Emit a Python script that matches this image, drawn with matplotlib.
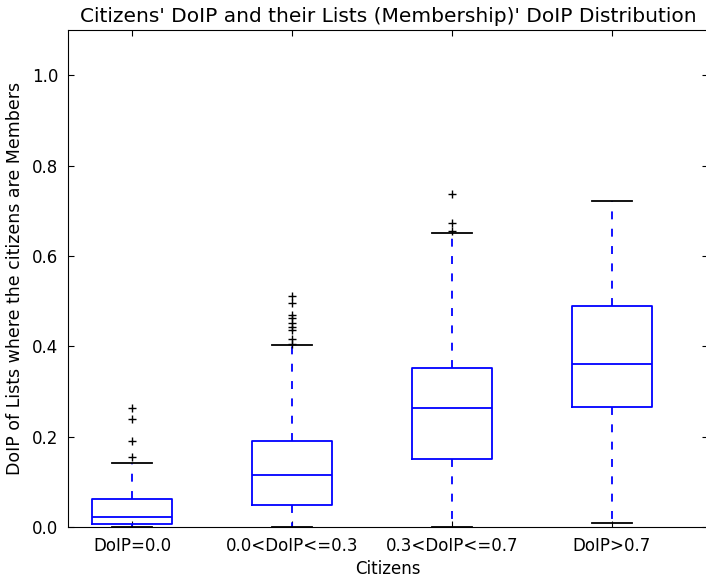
import matplotlib.pyplot as plt
import numpy as np

# values
labels = ['DoIP=0.0', '0.0<DoIP<=0.3', '0.3<DoIP<=0.7', 'DoIP>0.7']
q1 = [0.007, 0.048, 0.150, 0.265]
med = [0.021, 0.114, 0.263, 0.360]
q3 = [0.062, 0.190, 0.351, 0.490]
whislo = [0.0, 0.0, 0.0, 0.0095]
whishi = [0.142, 0.403, 0.652, 0.721]
fliers = [
    [0.156, 0.190, 0.238, 0.264],
    [0.406, 0.417, 0.436, 0.443, 0.452, 0.463, 0.469, 0.496, 0.512],
    [0.655, 0.673, 0.737],
    [],
]

stats = []
for i in range(len(labels)):
    stats.append({'label': labels[i], 'q1': q1[i], 'med': med[i], 'q3': q3[i],
                  'whislo': whislo[i], 'whishi': whishi[i], 'fliers': fliers[i]})

plt.rcParams['font.family'] = 'DejaVu Sans'
fig = plt.figure(figsize=(7.06, 5.77), dpi=100)
ax = fig.add_axes([0.0963, 0.0867, 0.9065, 0.861])

lw = 1.3
ax.bxp(stats, widths=0.5,
       boxprops=dict(color='blue', linewidth=lw),
       whiskerprops=dict(color='blue', linewidth=lw, linestyle=(0, (4.4, 5.2))),
       capprops=dict(color='black', linewidth=lw),
       medianprops=dict(color='blue', linewidth=lw),
       flierprops=dict(marker='+', markeredgecolor='black', markersize=6, linestyle='none'),
       capwidths=0.25)

ax.set_xlim(0.6, 4.6)
ax.set_ylim(0, 1.1)
ax.set_yticks([0.0, 0.2, 0.4, 0.6, 0.8, 1.0])
ax.set_yticklabels(['0.0', '0.2', '0.4', '0.6', '0.8', '1.0'])
ax.tick_params(direction='in', top=True, right=True, labelsize=12, length=4, pad=7)
ax.set_title("Citizens' DoIP and their Lists (Membership)' DoIP Distribution", fontsize=14.5)
ax.set_xlabel('Citizens', fontsize=12)
ax.set_ylabel('DoIP of Lists where the citizens are Members', fontsize=12.5, labelpad=6)

fig.savefig('out.png', dpi=100)
